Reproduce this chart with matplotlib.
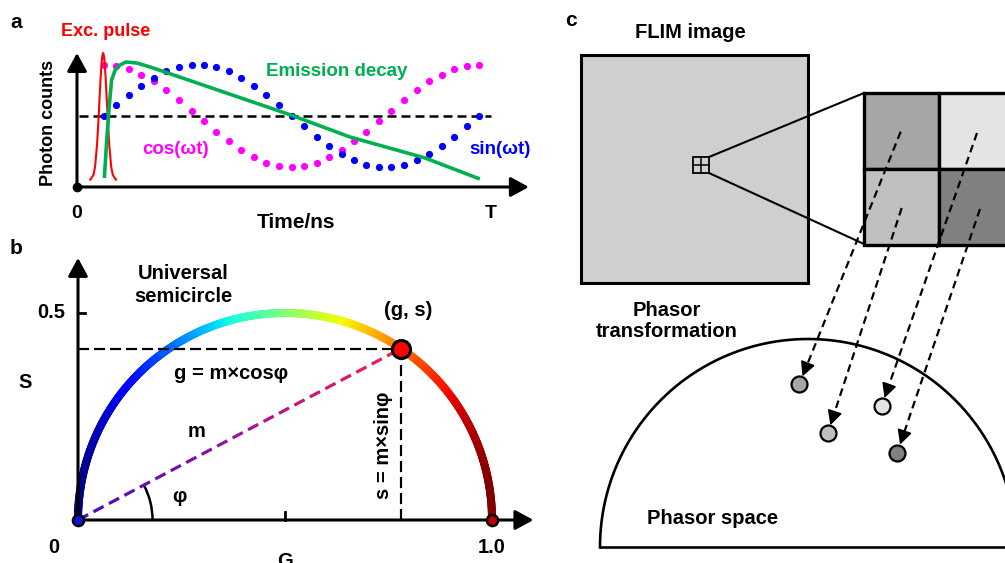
import numpy as np
import matplotlib
matplotlib.use('Agg')
import matplotlib.pyplot as plt
from matplotlib.collections import LineCollection
from matplotlib.colors import LinearSegmentedColormap
from matplotlib.patches import Rectangle, Arc

plt.rcParams['font.family'] = ['Liberation Sans', 'DejaVu Sans']
plt.rcParams['font.weight'] = 'bold'

W, H = 1005, 563

# ---------------- data ----------------
# panel a : time in units of T, photon counts normalised
dot_t = [0.067, 0.098, 0.129, 0.160, 0.191, 0.222, 0.254, 0.285, 0.316, 0.347, 0.378,
         0.409, 0.440, 0.471, 0.502, 0.534, 0.565, 0.596, 0.627, 0.658, 0.689, 0.720,
         0.751, 0.782, 0.813, 0.845, 0.876, 0.907, 0.938, 0.969, 1.000]
sin_vals = [0.57, 0.655, 0.74, 0.81, 0.875, 0.925, 0.96, 0.98, 0.98, 0.96, 0.925,
            0.875, 0.81, 0.74, 0.655, 0.57, 0.485, 0.40, 0.33, 0.265, 0.215, 0.18,
            0.16, 0.16, 0.18, 0.215, 0.265, 0.33, 0.40, 0.485, 0.57]
cos_vals = [0.98, 0.97, 0.945, 0.90, 0.845, 0.775, 0.70, 0.61, 0.525, 0.44, 0.365,
            0.295, 0.24, 0.195, 0.17, 0.16, 0.17, 0.195, 0.24, 0.295, 0.365, 0.44,
            0.525, 0.61, 0.70, 0.775, 0.845, 0.90, 0.945, 0.97, 0.98]
pulse_t = [0.033, 0.041, 0.045, 0.050, 0.054, 0.057, 0.059, 0.061, 0.063, 0.065,
           0.067, 0.069, 0.071, 0.073, 0.076, 0.080, 0.085, 0.089, 0.097]
pulse_c = [0.059, 0.097, 0.164, 0.344, 0.572, 0.766, 0.887, 0.985, 1.05, 1.072,
           1.05, 0.985, 0.887, 0.766, 0.572, 0.344, 0.164, 0.097, 0.059]
decay_t = [0.068, 0.074, 0.080, 0.086, 0.095, 0.107, 0.122, 0.149, 0.182, 0.306,
           0.532, 0.679, 0.866, 1.002]
decay_c = [0.072, 0.376, 0.64, 0.856, 0.936, 0.976, 1.0, 0.992, 0.96, 0.824,
           0.576, 0.40, 0.232, 0.064]
mid_level = 0.568

# panel b : phasor of one pixel
g_val, s_val = 0.78, 0.414

# panel c : zoomed pixels and their phasor points (schematic pixel coords)
cell_colors = ['#A6A6A6', '#E4E4E4', '#C0C0C0', '#808080']
arrow_x0 = [900.7, 977.0, 901.7, 980.0]
arrow_y0 = [131.7, 133.0, 208.0, 209.0]
point_x = [799.3, 881.7, 827.7, 897.3]
point_y = [384.3, 406.0, 433.3, 452.7]

fig = plt.figure(figsize=(W / 100, H / 100), dpi=100)


def panel_axes(x0, y0, x1, y1):
    ax = fig.add_axes([x0 / W, 1 - y1 / H, (x1 - x0) / W, (y1 - y0) / H])
    ax.axis('off')
    ax.patch.set_alpha(0)
    return ax


head = '-|>,head_length=0.55,head_width=0.3'

# ---------------- panel a ----------------
axa = panel_axes(0, 0, 560, 235)
axa.set_xlim((0 - 77) / 402, (560 - 77) / 402)
axa.set_ylim((187 - 235) / 125, 187 / 125)

axa.annotate('', xy=(1.124, 0), xytext=(0, 0),
             arrowprops=dict(arrowstyle=head, lw=2.2, color='k', mutation_scale=20,
                             shrinkA=0, shrinkB=0))
axa.annotate('', xy=(0, 1.072), xytext=(0, 0),
             arrowprops=dict(arrowstyle=head, lw=2.2, color='k', mutation_scale=20,
                             shrinkA=0, shrinkB=0))
axa.plot([0], [0], 'o', color='k', ms=6)
axa.plot([0.005, 1.03], [mid_level, mid_level], color='k', lw=1.8, dashes=(3.6, 2))
axa.plot(dot_t, cos_vals, 'o', color='#FF00FF', ms=5.2, mew=0)
axa.plot(dot_t, sin_vals, 'o', color='#0000FF', ms=5.2, mew=0)
axa.plot(pulse_t, pulse_c, color='#FF0000', lw=1.5)
axa.plot(decay_t, decay_c, color='#00B050', lw=2.6, solid_capstyle='butt')

axa.text(-0.165, 1.32, 'a', fontsize=15, ha='left', va='center')
axa.text(0.072, 1.24, 'Exc. pulse', color='#FF0000', fontsize=13, ha='center', va='center')
axa.text(0.645, 0.92, 'Emission decay', color='#00B050', fontsize=13.5, ha='center', va='center')
axa.text(0.245, 0.296, 'cos(ωt)', color='#FF00FF', fontsize=13.5, ha='center', va='center')
axa.text(1.052, 0.296, 'sin(ωt)', color='#0000FF', fontsize=13.5, ha='center', va='center')
axa.text(-0.072, 0.51, 'Photon counts', rotation=90, fontsize=13, ha='center', va='center')
axa.text(0, -0.21, '0', fontsize=14, ha='center', va='center')
axa.text(1.03, -0.21, 'T', fontsize=14, ha='center', va='center')
axa.text(0.545, -0.28, 'Time/ns', fontsize=15, ha='center', va='center')

# ---------------- panel b ----------------
axb = panel_axes(0, 235, 560, 563)
axb.set_xlim((0 - 78) / 414, (560 - 78) / 414)
axb.set_ylim((520 - 563) / 414, (520 - 235) / 414)

# universal semicircle coloured along G
theta = np.linspace(np.pi, 0, 400)
arc_g = 0.5 + 0.5 * np.cos(theta)
arc_s = 0.5 * np.sin(theta)
pts = np.column_stack([arc_g, arc_s]).reshape(-1, 1, 2)
segs = np.concatenate([pts[:-1], pts[1:]], axis=1)
lc = LineCollection(segs, colors=plt.cm.jet(0.5 * (arc_g[:-1] + arc_g[1:])),
                    linewidths=5.8, capstyle='round')
axb.add_collection(lc)

axb.annotate('', xy=(1.10, 0), xytext=(0, 0),
             arrowprops=dict(arrowstyle=head, lw=2.2, color='k', mutation_scale=20,
                             shrinkA=0, shrinkB=0))
axb.annotate('', xy=(0, 0.633), xytext=(0, 0),
             arrowprops=dict(arrowstyle=head, lw=2.2, color='k', mutation_scale=20,
                             shrinkA=0, shrinkB=0))
axb.plot([0, 0.016], [0.5, 0.5], color='k', lw=2)
axb.plot([0.5, 0.5], [0, 0.02], color='k', lw=2)

axb.plot([0.0, g_val], [s_val, s_val], color='k', lw=1.6, dashes=(5, 2.2))
axb.plot([g_val, g_val], [s_val, 0], color='k', lw=1.6, dashes=(5, 2.2))

# gradient dashed radius vector
length_px = np.hypot(g_val, s_val) * 414
starts = np.arange(0, 1, 17.5 / length_px)
ends = np.minimum(starts + 11.5 / length_px, 1)
grad = LinearSegmentedColormap.from_list('vec', ['#3A10C8', '#A0109A', '#FF1A4A'])
dseg = [[(u0 * g_val, u0 * s_val), (u1 * g_val, u1 * s_val)] for u0, u1 in zip(starts, ends)]
axb.add_collection(LineCollection(dseg, colors=grad(0.5 * (starts + ends)),
                                  linewidths=2.3, capstyle='butt'))

phi = np.degrees(np.arctan2(s_val, g_val))
axb.add_patch(Arc((0, 0), 0.36, 0.36, theta1=0, theta2=phi, color='k', lw=1.8))

axb.plot([0], [0], 'o', color='#1010E0', ms=8, mec='k', mew=1.8, zorder=5)
axb.plot([1], [0], 'o', color='#C00000', ms=8, mec='k', mew=1.8, zorder=5)
axb.plot([g_val], [s_val], 'o', color='#FF0000', ms=13, mec='k', mew=2.2, zorder=5)

axb.text(-0.165, 0.655, 'b', fontsize=15, ha='left', va='center')
axb.text(-0.03, 0.5, '0.5', fontsize=14.5, ha='right', va='center')
axb.text(-0.058, -0.066, '0', fontsize=14.5, ha='center', va='center')
axb.text(1.0, -0.066, '1.0', fontsize=14.5, ha='center', va='center')
axb.text(0.5, -0.1, 'G', fontsize=14.5, ha='center', va='center')
axb.text(-0.128, 0.331, 'S', fontsize=14.5, ha='center', va='center')
axb.text(0.254, 0.568, 'Universal\nsemicircle', fontsize=14.5, ha='center', va='center',
         linespacing=1.25)
axb.text(0.797, 0.507, '(g, s)', fontsize=14.5, ha='center', va='center')
axb.text(0.37, 0.354, 'g = m×cosφ', fontsize=14.5, ha='center', va='center')
axb.text(0.287, 0.213, 'm', fontsize=14.5, ha='center', va='center')
axb.text(0.244, 0.056, 'φ', fontsize=14.5, ha='center', va='center')
axb.text(0.737, 0.181, 's = m×sinφ', fontsize=14.5, rotation=90, ha='center', va='center')

# ---------------- panel c ----------------
axc = panel_axes(560, 0, 1005, 563)
axc.set_xlim(560, 1005)
axc.set_ylim(563, 0)

axc.text(565, 20, 'c', fontsize=15, ha='left', va='center')
axc.text(690, 33, 'FLIM image', fontsize=14.5, ha='center', va='center')
axc.add_patch(Rectangle((581, 55), 227, 228, fc='#D0CED0', ec='k', lw=2.2))
axc.add_patch(Rectangle((693, 157), 16, 16, fc='none', ec='k', lw=1.3))
axc.plot([701, 701], [157, 173], color='k', lw=1.1)
axc.plot([693, 709], [165, 165], color='k', lw=1.1)
axc.plot([709, 864], [157, 93], color='k', lw=1.5)
axc.plot([709, 864], [173, 244], color='k', lw=1.5)

cell_x = [864, 939, 864, 939]
cell_y = [93, 93, 169, 169]
for cx, cy, col in zip(cell_x, cell_y, cell_colors):
    axc.add_patch(Rectangle((cx, cy), 75, 76, fc=col, ec='k', lw=2.4, clip_on=False))

# phasor space half circle
pc_x, pc_y, pc_r = 808, 547, 208
th = np.linspace(0, np.pi, 300)
axc.plot(pc_x + pc_r * np.cos(th), pc_y - pc_r * np.sin(th), color='k', lw=1.9)
axc.plot([600, 1005], [547, 547], color='k', lw=1.9)

for x0, y0, px, py, col in zip(arrow_x0, arrow_y0, point_x, point_y, cell_colors):
    d = np.array([px - x0, py - y0])
    u = d / np.hypot(*d)
    tip = np.array([px, py]) - u * 8.5
    base = tip - u * 9
    axc.plot([x0, base[0]], [y0, base[1]], color='k', lw=1.6, dashes=(3.5, 2.2), zorder=4)
    axc.annotate('', xy=tuple(tip), xytext=tuple(tip - u * 11),
                 arrowprops=dict(arrowstyle='-|>,head_length=0.55,head_width=0.28',
                                 color='k', lw=1.2, mutation_scale=16,
                                 shrinkA=0, shrinkB=0), zorder=4)
    axc.plot([px], [py], 'o', color=col, ms=11.5, mec='k', mew=1.6, zorder=5)

axc.text(667, 321, 'Phasor\ntransformation', fontsize=14.5, ha='center', va='center',
         linespacing=1.15)
axc.text(713, 518, 'Phasor space', fontsize=14.5, ha='center', va='center')

fig.savefig('out.png', dpi=100)
